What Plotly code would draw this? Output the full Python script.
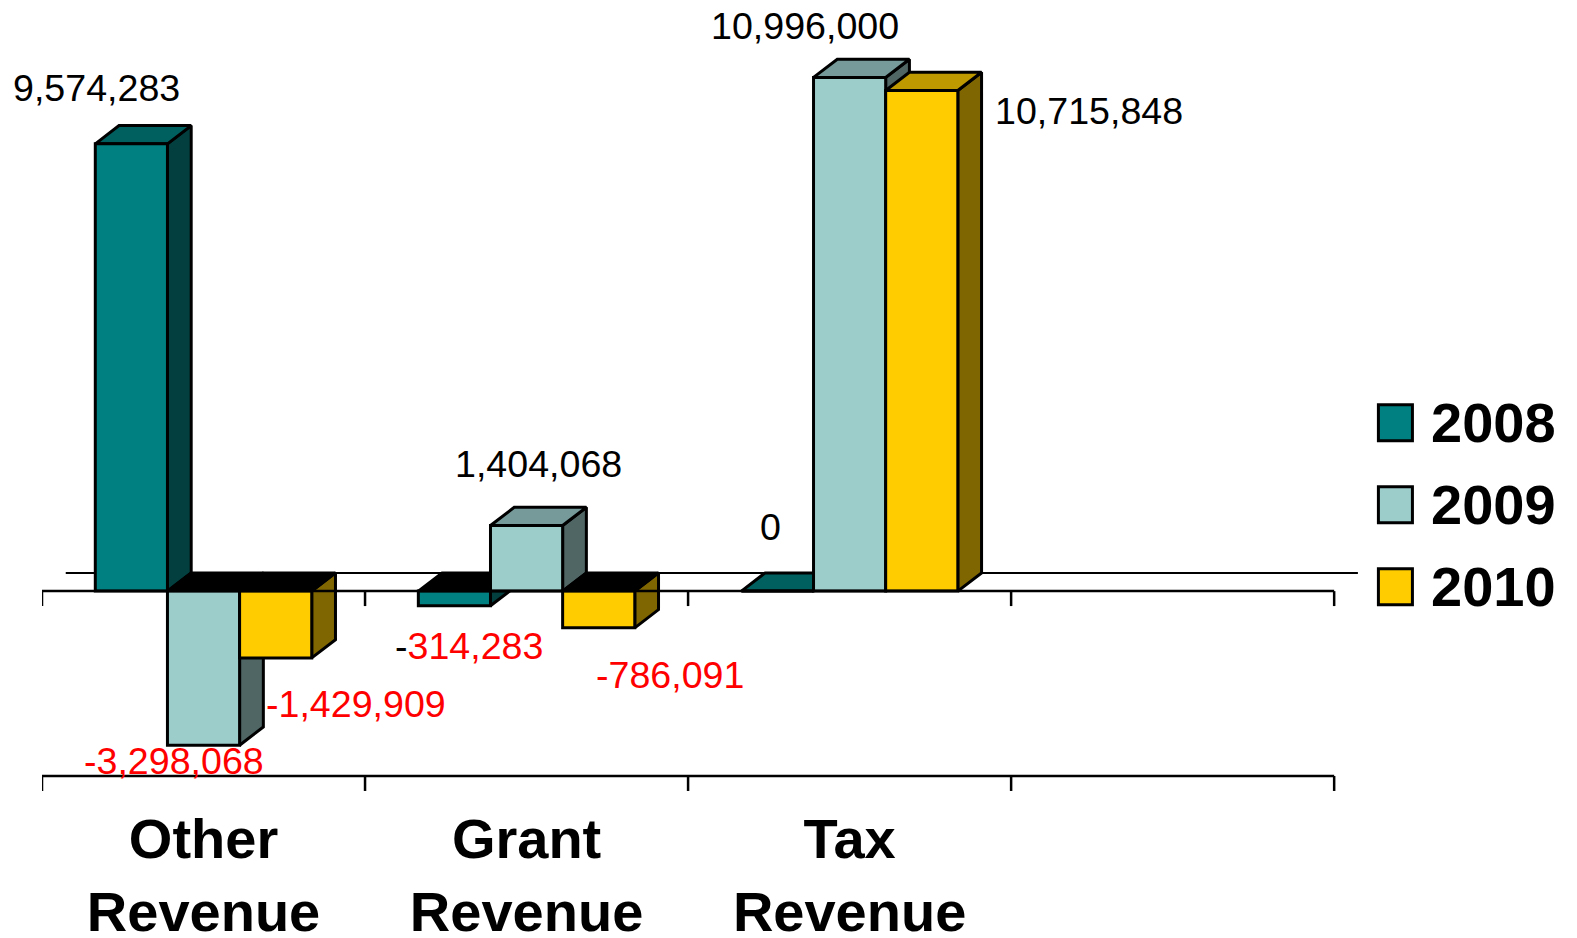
"""Revenue by source, 2008-2010: clustered bars drawn with a fake 3D depth."""

import plotly.graph_objects as go

# ── Data ────────────────────────────────────────────────────────────────────
CATEGORIES = ["Other<br>Revenue", "Grant<br>Revenue", "Tax<br>Revenue"]
YEARS = ["2008", "2009", "2010"]
VALUES_2008 = [9574283, -314283, 0]
VALUES_2009 = [-3298068, 1404068, 10996000]
VALUES_2010 = [-1429909, -786091, 10715848]

# ── Theme ───────────────────────────────────────────────────────────────────
FRONT = ["#008080", "#9DCDCB", "#FFCC00"]
TOP = ["#006060", "#759A99", "#BF9900"]
SIDE = ["#033F3F", "#4F6665", "#806600"]
FONT = "Liberation Sans, Arial, sans-serif"
RED = "#FF0000"

W, H = 1577, 938
L, R, T, B = 42.2, 217.4, 20, 145.6
BODY = 8  # default page margin of the html body

GAP = 0.33
BAR_W = (1 - GAP) / 3
DEPTH_X = 0.0735
DEPTH_Y = 390000
TICK_DROP = 320000
X_RANGE = [-0.5, 3.58]
Y_RANGE = [-4300000, 12225000]
LOWER_AXIS = -3958000
BOUNDS = [-0.5, 0.5, 1.5, 2.5, 3.5]

# label offsets from the end of each bar, px (right, up)
LABEL_SHIFT = {
    (0, 0): (-35, 56), (0, 1): (-30, -16), (0, 2): (80, -46),
    (1, 0): (15, -40), (1, 1): (12, 62), (1, 2): (71, -47),
    (2, 0): (-7, 64), (2, 1): (-45, 51), (2, 2): (167, -20),
}

series = [VALUES_2008, VALUES_2009, VALUES_2010]
fig = go.Figure()


def polygon(xs, ys, color):
    fig.add_trace(go.Scatter(
        x=xs, y=ys, mode="lines", fill="toself", fillcolor=color,
        line=dict(color="black", width=3), hoverinfo="skip",
        showlegend=False,
    ))


def axis_line(y):
    """Horizontal axis with ticks at the category boundaries."""
    xs, ys = [BOUNDS[0], BOUNDS[-1], None], [y, y, None]
    for b in BOUNDS:
        xs += [b, b, None]
        ys += [y, y - TICK_DROP, None]
    fig.add_trace(go.Scatter(
        x=xs, y=ys, mode="lines", line=dict(color="black", width=2.5),
        xaxis="x2", yaxis="y2", hoverinfo="skip", showlegend=False,
    ))


# back wall line
fig.add_trace(go.Scatter(
    x=[BOUNDS[0] + DEPTH_X, BOUNDS[-1] + DEPTH_X], y=[DEPTH_Y, DEPTH_Y],
    mode="lines", line=dict(color="black", width=2), hoverinfo="skip",
    showlegend=False,
))

# depth faces, painted left to right
for c in range(len(CATEGORIES)):
    for s in range(len(YEARS)):
        v = series[s][c]
        x0 = c + (s - 1.5) * BAR_W
        x1 = x0 + BAR_W
        top = max(v, 0)
        polygon(
            [x1, x1 + DEPTH_X, x1 + DEPTH_X, x1, x1],
            [top, top + DEPTH_Y, min(v, 0) + DEPTH_Y, min(v, 0), top],
            SIDE[s],
        )
        polygon(
            [x0, x1, x1 + DEPTH_X, x0 + DEPTH_X, x0],
            [top, top, top + DEPTH_Y, top + DEPTH_Y, top],
            "#000000" if v < 0 else TOP[s],
        )

# front faces sit on an overlaying subplot so they cover the depth faces
for s, year in enumerate(YEARS):
    fig.add_trace(go.Bar(
        x=list(range(len(CATEGORIES))), y=series[s], name=year,
        marker=dict(color=FRONT[s], line=dict(color="black", width=3)),
        xaxis="x2", yaxis="y2", showlegend=False,
    ))

axis_line(0)
axis_line(LOWER_AXIS)

# value labels
annotations = []
for c in range(len(CATEGORIES)):
    for s in range(len(YEARS)):
        v = series[s][c]
        text = f"{v:,}"
        color = "black"
        if v < 0:
            color = RED
            if (c, s) == (1, 0):  # minus sign stayed black in this one
                text = f"<span style='color:black'>-</span>{abs(v):,}"
        dx, dy = LABEL_SHIFT[(c, s)]
        annotations.append(dict(
            x=c + (s - 1) * BAR_W, y=v, xref="x", yref="y", text=text,
            xshift=dx, yshift=dy, showarrow=False,
            font=dict(family=FONT, size=37.6, color=color),
        ))

# legend
plot_w, plot_h = W - L - R, H - T - B
shapes = []
for s, year in enumerate(YEARS):
    y0 = 405 + 82 * s
    shapes.append(dict(
        type="rect", xref="paper", yref="paper", layer="above",
        x0=(1378 - L) / plot_w, x1=(1412 - L) / plot_w,
        y0=1 - (y0 - T) / plot_h, y1=1 - (y0 + 36 - T) / plot_h,
        fillcolor=FRONT[s], line=dict(color="black", width=3),
    ))
    annotations.append(dict(
        x=(1429 - L) / plot_w, y=1 - (y0 + 18 - T) / plot_h,
        xref="paper", yref="paper", xanchor="left", yanchor="middle",
        text=year, showarrow=False,
        font=dict(family=FONT, size=56, color="black", weight="bold"),
    ))

fig.update_layout(
    width=W, height=H,
    margin=dict(l=L - BODY, r=R + BODY, t=T - BODY, b=B + BODY, autoexpand=False),
    paper_bgcolor="white", plot_bgcolor="white",
    barmode="group", bargap=GAP, bargroupgap=0,
    showlegend=False,
    shapes=shapes, annotations=annotations,
    xaxis=dict(
        range=X_RANGE, showgrid=False, zeroline=False, showline=False,
        tickmode="array", tickvals=list(range(len(CATEGORIES))), ticktext=CATEGORIES,
        ticks="", ticklabelstandoff=9,
        tickfont=dict(family=FONT, size=56, color="black", weight="bold"),
    ),
    yaxis=dict(range=Y_RANGE, visible=False),
    xaxis2=dict(range=X_RANGE, overlaying="x", visible=False, matches="x"),
    yaxis2=dict(range=Y_RANGE, overlaying="y", visible=False, matches="y"),
)

fig.write_html("out.html")
